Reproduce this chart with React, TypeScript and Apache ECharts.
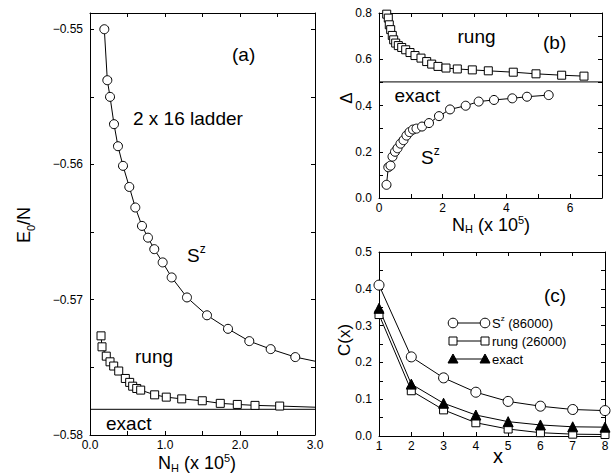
import React, { useEffect, useRef } from 'react';
import * as echarts from 'echarts';

const FONT = '"Liberation Sans", Arial, Helvetica, sans-serif';

// Panel (a): E0/N vs N_H (x 10^5)
const aXRange = [0, 3];
const aSzX = [0.191, 0.231, 0.267, 0.32, 0.373, 0.44, 0.524, 0.604, 0.693, 0.773, 0.857, 0.969, 1.089, 1.293, 1.56, 1.84, 2.124, 2.409, 2.737, 3.05];
const aSzY = [-0.55, -0.55377, -0.555, -0.55702, -0.55865, -0.5601, -0.56166, -0.56318, -0.56454, -0.56541, -0.56626, -0.56724, -0.56835, -0.56983, -0.57115, -0.57215, -0.57306, -0.57365, -0.57424, -0.5746];
const aRungX = [0.147, 0.16, 0.217, 0.267, 0.316, 0.383, 0.471, 0.529, 0.569, 0.623, 0.676, 0.862, 1.017, 1.223, 1.497, 1.737, 1.964, 2.2, 2.529, 3.3];
const aRungY = [-0.57267, -0.57348, -0.57417, -0.57459, -0.5749, -0.57527, -0.57582, -0.57611, -0.57639, -0.57656, -0.57668, -0.57703, -0.5772, -0.57733, -0.57747, -0.57766, -0.57774, -0.57781, -0.57786, -0.578];
const aExact = -0.5781;

// Panel (b): gap Delta vs N_H (x 10^5)
const bXRange = [0, 7];
const bRungX = [0.242, 0.292, 0.323, 0.367, 0.417, 0.461, 0.524, 0.606, 0.713, 0.838, 0.973, 1.13, 1.318, 1.497, 1.654, 1.852, 2.103, 2.458, 2.929, 3.431, 4.215, 4.928, 5.734, 6.434];
const bRungY = [0.795, 0.778, 0.749, 0.728, 0.703, 0.684, 0.67, 0.659, 0.651, 0.641, 0.629, 0.616, 0.605, 0.59, 0.579, 0.569, 0.562, 0.558, 0.554, 0.55, 0.544, 0.537, 0.531, 0.527];
const bSzX = [0.235, 0.292, 0.361, 0.424, 0.502, 0.581, 0.675, 0.769, 0.863, 0.957, 1.067, 1.177, 1.35, 1.569, 1.883, 2.229, 2.721, 3.129, 3.61, 4.184, 4.645, 5.326];
const bSzY = [0.057, 0.133, 0.14, 0.179, 0.2, 0.215, 0.235, 0.25, 0.27, 0.285, 0.296, 0.3, 0.309, 0.324, 0.354, 0.383, 0.399, 0.417, 0.424, 0.431, 0.438, 0.445];
const bExact = 0.502;

// Panel (c): C(x) vs x
const cX = [1, 2, 3, 4, 5, 6, 7, 8];
const cSz = [0.41, 0.215, 0.158, 0.119, 0.094, 0.081, 0.072, 0.069];
const cRung = [0.33, 0.123, 0.071, 0.036, 0.019, 0.009, 0.005, 0.004];
const cExact = [0.347, 0.141, 0.089, 0.057, 0.039, 0.03, 0.025, 0.024];
const legendNames = ['S^z (86000)', 'rung (26000)', 'exact'];

const zip = (xs: number[], ys: number[]) => xs.map((x, i) => [x, ys[i]]);

const near = (v: number, step: number) => Math.abs(v / step - Math.round(v / step)) < 1e-6;

function axis(kind: 'x' | 'y', gridIndex: number, position: string, min: number, max: number, interval: number, fmt?: (v: number) => string) {
  return {
    type: 'value',
    gridIndex,
    position,
    min,
    max,
    interval,
    axisLine: { show: true, onZero: false, lineStyle: { color: '#000', width: 1 } },
    axisTick: { show: true, inside: true, length: 4, lineStyle: { color: '#000', width: 1 } },
    axisLabel: fmt
      ? { show: true, formatter: fmt, color: '#000', fontSize: 12, fontFamily: FONT, margin: kind === 'x' ? 4 : 7, hideOverlap: false }
      : { show: false },
    splitLine: { show: false },
  };
}

const lineStyle = { color: '#000', width: 1 };
const openItem = { color: '#fff', borderColor: '#000', borderWidth: 1 };

function txt(x: number, y: number, text: string, size: number, align = 'left', rotation = 0, rich?: any) {
  return {
    type: 'text',
    x,
    y,
    rotation,
    z: 100,
    style: {
      text,
      fill: '#000',
      fontSize: size,
      fontFamily: FONT,
      textAlign: align,
      textVerticalAlign: 'middle',
      align,
      verticalAlign: 'middle',
      rich,
    },
  };
}

const richBig = (fs: number, lh = fs + 6) => ({
  n: { fontSize: fs, fontFamily: FONT, color: '#000', lineHeight: lh },
  sub: { fontSize: Math.round(fs * 0.62), fontFamily: FONT, color: '#000', verticalAlign: 'bottom' },
  sup: { fontSize: Math.round(fs * 0.62), fontFamily: FONT, color: '#000', verticalAlign: 'top' },
});

function legendRow(y: number, kind: 'circle' | 'rect' | 'tri', label: string) {
  const x1 = 453, x2 = 485;
  const els: any[] = [
    { type: 'line', z: 100, shape: { x1, y1: y, x2, y2: y }, style: { stroke: '#000', lineWidth: 1 } },
  ];
  [x1, x2].forEach((cx) => {
    if (kind === 'circle') {
      els.push({ type: 'circle', z: 101, shape: { cx, cy: y, r: 4.8 }, style: { fill: '#fff', stroke: '#000', lineWidth: 1 } });
    } else if (kind === 'rect') {
      els.push({ type: 'rect', z: 101, shape: { x: cx - 4, y: y - 4, width: 8, height: 8 }, style: { fill: '#fff', stroke: '#000', lineWidth: 1 } });
    } else {
      els.push({ type: 'polygon', z: 101, shape: { points: [[cx, y - 5], [cx - 5, y + 4], [cx + 5, y + 4]] }, style: { fill: '#000', stroke: '#000', lineWidth: 1 } });
    }
  });
  const rich = {
    n: { fontSize: 13, fontFamily: FONT, color: '#000', lineHeight: 18 },
    sup: { fontSize: 8, fontFamily: FONT, color: '#000', verticalAlign: 'top' },
  };
  let t = `{n|${label}}`;
  if (label.startsWith('S^z')) t = `{n|S}{sup|z}{n|${label.slice(3)}}`;
  els.push(txt(492, y, t, 13, 'left', 0, rich));
  return els;
}

export default function App() {
  const ref = useRef<HTMLDivElement>(null);
  useEffect(() => {
    const chart = echarts.init(ref.current!, null, { renderer: 'svg' });
    const fmtA = (v: number) => (near(v, 0.01) ? '\u2212' + Math.abs(v).toFixed(2) : '');
    const fmtAx = (v: number) => (near(v, 1) ? v.toFixed(1) : '');
    const fmtBy = (v: number) => (near(v, 0.2) ? v.toFixed(1) : '');
    const fmtBx = (v: number) => (near(v, 2) ? String(Math.round(v)) : '');
    const fmtCy = (v: number) => (near(v, 0.1) ? v.toFixed(1) : '');
    const fmtCx = (v: number) => String(Math.round(v));

    const option: any = {
      animation: false,
      backgroundColor: '#fff',
      grid: [
        { left: 90, top: 13, width: 225, height: 422 },
        { left: 379, top: 13, width: 223, height: 185 },
        { left: 379, top: 252, width: 226, height: 184 },
      ],
      xAxis: [
        axis('x', 0, 'bottom', aXRange[0], aXRange[1], 0.5, fmtAx),
        axis('x', 0, 'top', aXRange[0], aXRange[1], 0.5),
        axis('x', 1, 'bottom', bXRange[0], bXRange[1], 1, fmtBx),
        axis('x', 1, 'top', bXRange[0], bXRange[1], 1),
        axis('x', 2, 'bottom', 1, 8, 1, fmtCx),
        axis('x', 2, 'top', 1, 8, 1),
      ],
      yAxis: [
        axis('y', 0, 'left', -0.58, -0.5488, 0.005, fmtA),
        axis('y', 0, 'right', -0.58, -0.5488, 0.005),
        axis('y', 1, 'left', 0, 0.8, 0.1, fmtBy),
        axis('y', 1, 'right', 0, 0.8, 0.1),
        axis('y', 2, 'left', 0, 0.5, 0.05, fmtCy),
        axis('y', 2, 'right', 0, 0.5, 0.05),
      ],
      series: [
        {
          name: 'a-exact', type: 'line', xAxisIndex: 0, yAxisIndex: 0,
          data: aXRange.map((x) => [x, aExact]), symbol: 'none', lineStyle, silent: true,
        },
        {
          name: 'a-Sz', type: 'line', xAxisIndex: 0, yAxisIndex: 0, data: zip(aSzX, aSzY),
          symbol: 'circle', symbolSize: 9, lineStyle, itemStyle: openItem, clip: true,
        },
        {
          name: 'a-rung', type: 'line', xAxisIndex: 0, yAxisIndex: 0, data: zip(aRungX, aRungY),
          symbol: 'rect', symbolSize: 8, lineStyle, itemStyle: openItem, clip: true,
        },
        {
          name: 'b-exact', type: 'line', xAxisIndex: 2, yAxisIndex: 2,
          data: bXRange.map((x) => [x, bExact]), symbol: 'none', lineStyle, silent: true,
        },
        {
          name: 'b-rung', type: 'line', xAxisIndex: 2, yAxisIndex: 2, data: zip(bRungX, bRungY),
          symbol: 'rect', symbolSize: 8, lineStyle, itemStyle: openItem,
        },
        {
          name: 'b-Sz', type: 'line', xAxisIndex: 2, yAxisIndex: 2, data: zip(bSzX, bSzY),
          symbol: 'circle', symbolSize: 9, lineStyle, itemStyle: openItem,
        },
        {
          name: legendNames[0], type: 'line', xAxisIndex: 4, yAxisIndex: 4, data: zip(cX, cSz),
          symbol: 'circle', symbolSize: 10, lineStyle, itemStyle: openItem,
        },
        {
          name: legendNames[1], type: 'line', xAxisIndex: 4, yAxisIndex: 4, data: zip(cX, cRung),
          symbol: 'rect', symbolSize: 8, lineStyle, itemStyle: openItem,
        },
        {
          name: legendNames[2], type: 'line', xAxisIndex: 4, yAxisIndex: 4, data: zip(cX, cExact),
          symbol: 'triangle', symbolSize: 10, lineStyle, itemStyle: { color: '#000', borderColor: '#000', borderWidth: 1 },
        },
      ],
      graphic: [
        // panel (a)
        txt(232, 54.5, '(a)', 19),
        txt(133, 118.5, '2 x 16 ladder', 19),
        txt(187, 255, '{n|S}{sup|z}', 19, 'left', 0, richBig(19)),
        txt(135, 356.5, 'rung', 19),
        txt(106, 423.5, 'exact', 19),
        txt(24, 225, '{n|E}{sub|0}{n|/N}', 18, 'center', Math.PI / 2, richBig(18)),
        txt(197, 463, '{n|N}{sub|H}{n| (x 10}{sup|5}{n|)}', 18, 'center', 0, richBig(18, 21)),
        // panel (b)
        txt(457.5, 36.5, 'rung', 19),
        txt(543, 42.5, '(b)', 19),
        txt(394.5, 95.5, 'exact', 19),
        txt(421, 157, '{n|S}{sup|z}', 19, 'left', 0, richBig(19)),
        txt(346, 98, '\u0394', 17, 'center', Math.PI / 2),
        txt(491, 224.5, '{n|N}{sub|H}{n| (x 10}{sup|5}{n|)}', 18, 'center', 0, richBig(18, 20)),
        // panel (c)
        txt(544, 295.5, '(c)', 19),
        txt(344, 340, 'C(x)', 17, 'center', Math.PI / 2),
        txt(498, 456, 'x', 20, 'center'),
        ...legendRow(323, 'circle', legendNames[0]),
        ...legendRow(341, 'rect', legendNames[1]),
        ...legendRow(359, 'tri', legendNames[2]),
      ],
    };
    chart.setOption(option);
    return () => chart.dispose();
  }, []);
  return <div ref={ref} style={{ position: 'fixed', left: 0, top: 0, width: 613, height: 475, background: '#fff' }} />;
}
